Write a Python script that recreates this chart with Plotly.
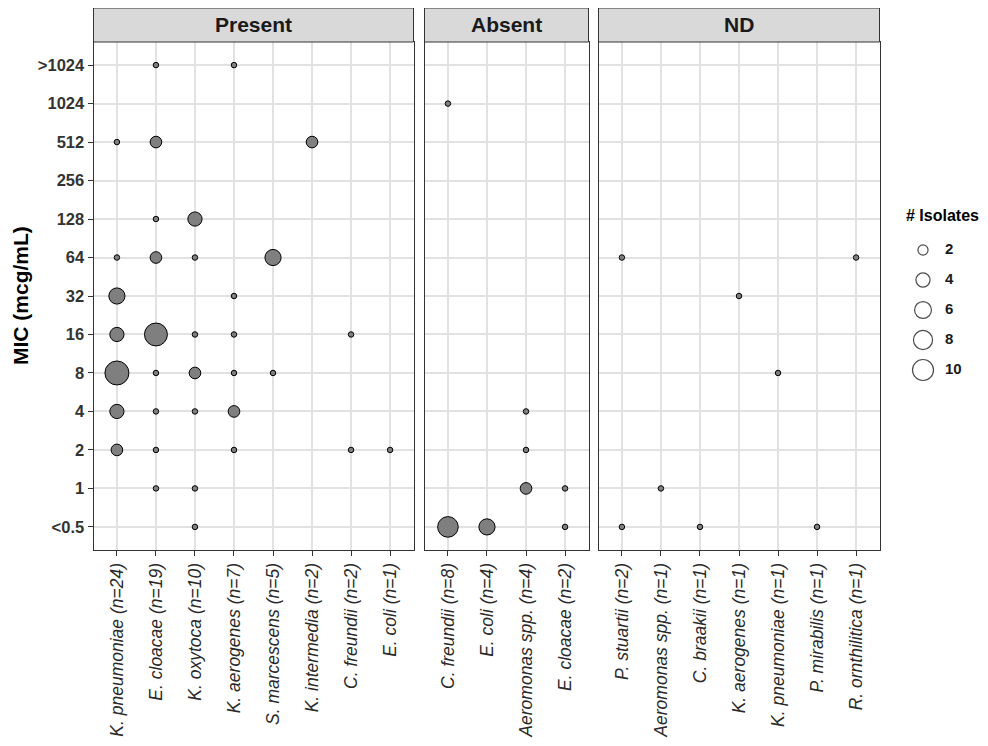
import math
import plotly.graph_objects as go

W, H = 988, 746
OFF = 8  # default body margin of the html page
FW, FH = W - OFF, H - OFF

# ---------------- data ----------------
mic_levels = ["<0.5", "1", "2", "4", "8", "16", "32", "64", "128", "256", "512", "1024", ">1024"]

facets = ["Present", "Absent", "ND"]

present_species = ["K. pneumoniae (n=24)", "E. cloacae (n=19)", "K. oxytoca (n=10)", "K. aerogenes (n=7)",
                   "S. marcescens (n=5)", "K. intermedia (n=2)", "C. freundii (n=2)", "E. coli (n=1)"]
present_x = ["K. pneumoniae (n=24)"] * 7 + ["E. cloacae (n=19)"] * 9 + ["K. oxytoca (n=10)"] * 7 + \
            ["K. aerogenes (n=7)"] * 6 + ["S. marcescens (n=5)"] * 2 + ["K. intermedia (n=2)"] + \
            ["C. freundii (n=2)"] * 2 + ["E. coli (n=1)"]
present_mic = ["512", "64", "32", "16", "8", "4", "2",
               ">1024", "512", "128", "64", "16", "8", "4", "2", "1",
               "128", "64", "16", "8", "4", "1", "<0.5",
               ">1024", "32", "16", "8", "4", "2",
               "64", "8",
               "512",
               "16", "2",
               "2"]
present_n = [1, 1, 4, 3, 10, 3, 2,
             1, 2, 1, 2, 9, 1, 1, 1, 1,
             3, 1, 1, 2, 1, 1, 1,
             1, 1, 1, 1, 2, 1,
             4, 1,
             2,
             1, 1,
             1]

absent_species = ["C. freundii (n=8)", "E. coli (n=4)", "Aeromonas spp. (n=4)", "E. cloacae (n=2)"]
absent_x = ["C. freundii (n=8)", "C. freundii (n=8)", "E. coli (n=4)",
            "Aeromonas spp. (n=4)", "Aeromonas spp. (n=4)", "Aeromonas spp. (n=4)",
            "E. cloacae (n=2)", "E. cloacae (n=2)"]
absent_mic = ["1024", "<0.5", "<0.5", "4", "2", "1", "1", "<0.5"]
absent_n = [1, 7, 4, 1, 1, 2, 1, 1]

nd_species = ["P. stuartii (n=2)", "Aeromonas spp. (n=1)", "C. braakii (n=1)", "K. aerogenes (n=1)",
              "K. pneumoniae (n=1)", "P. mirabilis (n=1)", "R. ornthilitica (n=1)"]
nd_x = ["P. stuartii (n=2)", "P. stuartii (n=2)", "Aeromonas spp. (n=1)", "C. braakii (n=1)",
        "K. aerogenes (n=1)", "K. pneumoniae (n=1)", "P. mirabilis (n=1)", "R. ornthilitica (n=1)"]
nd_mic = ["64", "<0.5", "1", "<0.5", "32", "8", "<0.5", "64"]
nd_n = [1, 1, 1, 1, 1, 1, 1, 1]

legend_breaks = [2, 4, 6, 8, 10]

# ---------------- styling helpers ----------------
N_MIN, N_MAX = 1, 10
D_MIN, D_MAX = 6.5, 25.0


def diam(n):
    return D_MIN + (D_MAX - D_MIN) * math.sqrt((n - N_MIN) / (N_MAX - N_MIN))


def lab(s):
    return "<i>" + s + "</i>"


def px(x):  # window x pixel -> paper fraction
    return (x - OFF) / FW


def py(y):  # window y pixel (from top) -> paper fraction
    return 1 - (y - OFF) / FH


FONT = "Liberation Sans, Arial, Helvetica, sans-serif"
GRID = "#E2E2E2"
BORDER = "#333333"

x_px = {"Present": (93.5, 413.5), "Absent": (424.5, 588.5), "ND": (598.5, 879.5)}
y_dom = [py(550), py(42)]

fig = go.Figure()

facet_data = [
    ("Present", present_species, present_x, present_mic, present_n, "x", "y"),
    ("Absent", absent_species, absent_x, absent_mic, absent_n, "x2", "y2"),
    ("ND", nd_species, nd_x, nd_mic, nd_n, "x3", "y3"),
]

for name, species, xs, mics, ns, xa, ya in facet_data:
    fig.add_trace(go.Scatter(
        x=[lab(s) for s in xs], y=mics, mode="markers",
        xaxis=xa, yaxis=ya, showlegend=False,
        marker=dict(size=[diam(n) - 1 for n in ns], color="#7F7F7F",
                    line=dict(color="#000000", width=1), opacity=1),
        hovertext=[str(n) for n in ns],
    ))

# legend drawn as a small subplot
fig.add_trace(go.Scatter(
    x=[923] * len(legend_breaks), y=legend_breaks, mode="markers",
    xaxis="x4", yaxis="y4", showlegend=False,
    marker=dict(size=[0.88 * diam(v) - 1 for v in legend_breaks], color="rgba(0,0,0,0)",
                line=dict(color="#000000", width=1.2)),
))
fig.add_trace(go.Scatter(
    x=[945] * len(legend_breaks), y=legend_breaks, mode="text",
    text=["<b>%d</b>" % v for v in legend_breaks], textposition="middle right",
    textfont=dict(family=FONT, size=15, color="#1A1A1A"),
    xaxis="x4", yaxis="y4", showlegend=False,
))

common_x = dict(type="category", showgrid=True, gridcolor=GRID, gridwidth=1.5,
                showline=True, mirror=True, linecolor=BORDER, linewidth=1,
                ticks="outside", ticklen=5, tickcolor=BORDER, tickwidth=1,
                tickangle=-90, tickfont=dict(family=FONT, size=17.5, color="#2A2A2A"),
                zeroline=False, fixedrange=True)
common_y = dict(type="category", categoryorder="array", categoryarray=mic_levels,
                range=[-0.6, len(mic_levels) - 0.4], domain=y_dom,
                showgrid=True, gridcolor=GRID, gridwidth=1.5,
                showline=True, mirror=True, linecolor=BORDER, linewidth=1,
                zeroline=False, fixedrange=True)

layout = dict(
    width=FW, height=FH, margin=dict(l=0, r=0, t=0, b=0),
    paper_bgcolor="white", plot_bgcolor="white",
    font=dict(family=FONT),
    showlegend=False,
)

for i, (name, species, xs, mics, ns, xa, ya) in enumerate(facet_data):
    suffix = "" if i == 0 else str(i + 1)
    x0, x1 = x_px[name]
    layout["xaxis" + suffix] = dict(common_x, domain=[px(x0), px(x1)], anchor="y" + suffix,
                                   categoryorder="array", categoryarray=[lab(s) for s in species],
                                   range=[-0.6, len(species) - 0.4])
    if i == 0:
        layout["yaxis"] = dict(common_y, anchor="x", ticks="outside", ticklen=5, tickcolor=BORDER,
                               tickfont=dict(family=FONT, size=16.5, color="#333333"),
                               ticktext=["<b>%s</b>" % m for m in mic_levels], tickvals=mic_levels)
    else:
        layout["yaxis" + suffix] = dict(common_y, anchor="x" + suffix, showticklabels=False, ticks="")

layout["xaxis4"] = dict(domain=[px(900), 1.0], range=[900, 988], visible=False, fixedrange=True)
layout["yaxis4"] = dict(domain=[py(385), py(235)], range=[11, 1], visible=False,
                        fixedrange=True, anchor="x4")

shapes = []
annotations = []
for name in facets:
    x0, x1 = x_px[name]
    shapes.append(dict(type="rect", xref="paper", yref="paper", x0=px(x0), x1=px(x1),
                       y0=py(42), y1=py(8), fillcolor="#D9D9D9",
                       line=dict(color=BORDER, width=1), layer="above"))
    annotations.append(dict(xref="paper", yref="paper", x=px((x0 + x1) / 2), y=py(25),
                            text="<b>%s</b>" % name, showarrow=False,
                            font=dict(family=FONT, size=21, color="#1A1A1A"),
                            xanchor="center", yanchor="middle"))

annotations.append(dict(xref="paper", yref="paper", x=px(20), y=py(296),
                        text="<b>MIC (mcg/mL)</b>", textangle=-90, showarrow=False,
                        font=dict(family=FONT, size=21, color="#000000"),
                        xanchor="center", yanchor="middle"))
annotations.append(dict(xref="paper", yref="paper", x=px(904), y=py(216),
                        text="<b># Isolates</b>", showarrow=False,
                        font=dict(family=FONT, size=16, color="#000000"),
                        xanchor="left", yanchor="middle"))

layout["shapes"] = shapes
layout["annotations"] = annotations

fig.update_layout(**layout)
fig.write_html("out.html")
